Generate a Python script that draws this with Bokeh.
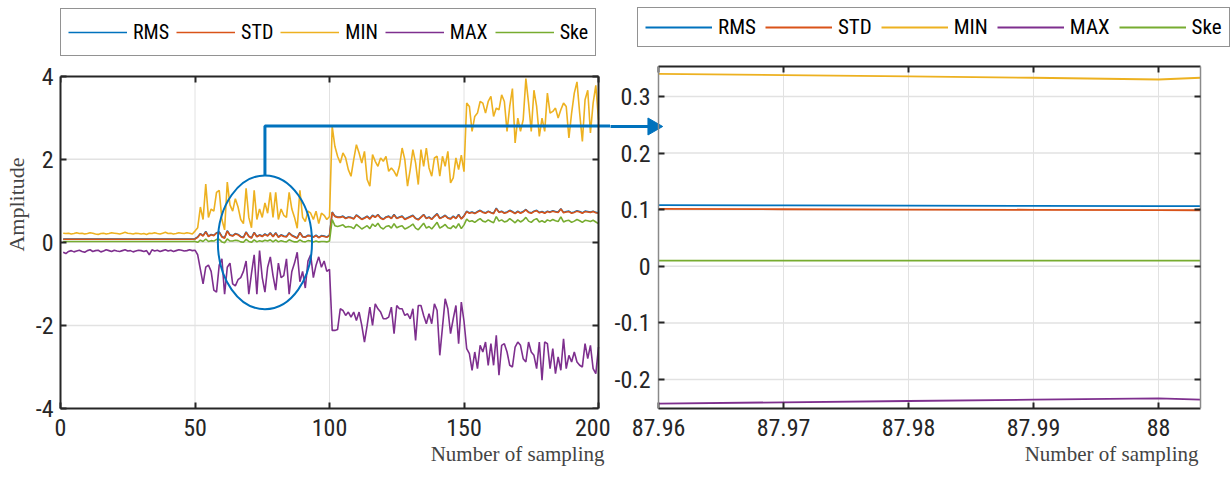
import math
from bokeh.plotting import figure
from bokeh.layouts import row
from bokeh.models import (Range1d, LinearAxis, FixedTicker, Legend, LegendItem, Title)
from bokeh.core.properties import value
from bokeh.embed import file_html
from bokeh.resources import INLINE

# ---------------- data: left panel (sample index 1..200) ----------------
x_left = list(range(1, 201))

rms = [0.080,0.081,0.080,0.079,0.080,0.081,0.080,0.080,0.079,0.080,
       0.081,0.080,0.080,0.079,0.080,0.081,0.080,0.079,0.080,0.080,
       0.081,0.080,0.080,0.081,0.080,0.079,0.080,0.080,0.081,0.080,
       0.080,0.079,0.081,0.080,0.080,0.081,0.080,0.079,0.080,0.081,
       0.080,0.080,0.079,0.080,0.081,0.080,0.080,0.081,0.080,0.085,
       0.13,0.21,0.16,0.26,0.15,0.19,0.17,0.23,0.25,0.14,
       0.11,0.28,0.18,0.16,0.21,0.19,0.14,0.12,0.25,0.15,
       0.11,0.24,0.14,0.18,0.15,0.20,0.16,0.23,0.14,0.23,
       0.13,0.18,0.15,0.14,0.23,0.17,0.14,0.107,0.24,0.14,
       0.13,0.17,0.16,0.13,0.17,0.12,0.16,0.15,0.13,0.17,
       0.73,0.63,0.61,0.61,0.63,0.58,0.61,0.60,0.57,0.66,
       0.61,0.56,0.59,0.63,0.57,0.65,0.61,0.67,0.59,0.56,
       0.61,0.63,0.58,0.67,0.58,0.61,0.63,0.56,0.59,0.62,
       0.65,0.58,0.55,0.61,0.67,0.58,0.61,0.56,0.63,0.69,
       0.58,0.61,0.65,0.59,0.57,0.63,0.58,0.67,0.57,0.64,
       0.75,0.71,0.73,0.70,0.74,0.77,0.73,0.71,0.75,0.72,
       0.70,0.82,0.73,0.75,0.71,0.73,0.77,0.74,0.70,0.75,
       0.71,0.74,0.79,0.73,0.71,0.75,0.77,0.72,0.74,0.71,
       0.75,0.73,0.76,0.74,0.73,0.81,0.72,0.74,0.75,0.71,
       0.73,0.76,0.74,0.71,0.75,0.74,0.73,0.75,0.72,0.71]

std = [0.074,0.075,0.074,0.073,0.074,0.075,0.074,0.074,0.073,0.074,
       0.075,0.074,0.074,0.073,0.074,0.075,0.074,0.073,0.074,0.074,
       0.075,0.074,0.074,0.075,0.074,0.073,0.074,0.074,0.075,0.074,
       0.074,0.073,0.075,0.074,0.074,0.075,0.074,0.073,0.074,0.075,
       0.074,0.074,0.073,0.074,0.075,0.074,0.074,0.075,0.074,0.080,
       0.12,0.20,0.15,0.25,0.14,0.18,0.16,0.22,0.24,0.13,
       0.10,0.27,0.17,0.15,0.20,0.18,0.13,0.11,0.24,0.14,
       0.10,0.23,0.13,0.17,0.14,0.19,0.15,0.22,0.13,0.22,
       0.12,0.17,0.14,0.13,0.22,0.16,0.13,0.100,0.23,0.13,
       0.12,0.16,0.15,0.12,0.16,0.11,0.15,0.14,0.12,0.16,
       0.72,0.62,0.60,0.60,0.62,0.57,0.60,0.59,0.56,0.65,
       0.60,0.55,0.58,0.62,0.56,0.64,0.60,0.66,0.58,0.55,
       0.60,0.62,0.57,0.66,0.57,0.60,0.62,0.55,0.58,0.61,
       0.64,0.57,0.54,0.60,0.66,0.57,0.60,0.55,0.62,0.68,
       0.57,0.60,0.64,0.58,0.56,0.62,0.57,0.66,0.56,0.63,
       0.74,0.70,0.72,0.69,0.73,0.76,0.72,0.70,0.74,0.71,
       0.69,0.81,0.72,0.74,0.70,0.72,0.76,0.73,0.69,0.74,
       0.70,0.73,0.78,0.72,0.70,0.74,0.76,0.71,0.73,0.70,
       0.74,0.72,0.75,0.73,0.72,0.80,0.71,0.73,0.74,0.70,
       0.72,0.75,0.73,0.70,0.74,0.73,0.72,0.74,0.71,0.70]

mn = [0.22,0.21,0.22,0.20,0.21,0.23,0.21,0.22,0.20,0.21,
      0.23,0.22,0.20,0.19,0.21,0.22,0.20,0.21,0.23,0.22,
      0.21,0.20,0.22,0.24,0.22,0.21,0.20,0.22,0.21,0.20,
      0.21,0.19,0.22,0.21,0.23,0.21,0.20,0.22,0.24,0.21,
      0.22,0.20,0.21,0.23,0.22,0.21,0.23,0.22,0.20,0.27,
      0.35,0.85,0.55,1.40,0.60,0.80,0.75,1.20,1.25,0.55,
      0.30,1.45,0.90,0.75,1.05,0.85,0.55,0.45,1.30,0.60,
      0.35,1.25,0.55,0.80,0.60,0.95,0.70,1.20,0.60,1.20,
      0.55,0.80,0.65,0.60,1.20,0.80,0.60,0.34,1.25,0.60,
      0.50,0.75,0.70,0.55,0.75,0.45,0.70,0.65,0.55,0.62,
      2.79,2.31,2.07,1.91,2.15,2.03,1.75,1.59,1.99,2.35,
      2.15,1.91,2.19,1.51,1.35,2.11,1.95,1.83,2.03,1.95,
      2.07,1.71,1.79,1.71,1.59,1.83,2.27,1.99,1.35,1.75,
      2.23,1.91,1.39,2.23,1.83,2.27,1.79,1.59,2.03,2.07,
      1.59,2.07,1.83,2.19,1.43,1.55,2.03,1.75,2.10,1.70,
      3.35,3.27,2.67,3.03,3.11,3.39,3.35,3.11,3.39,3.51,
      3.03,3.23,3.19,3.55,3.39,2.67,3.27,3.70,2.39,2.99,
      2.67,2.95,3.94,3.35,2.67,3.66,3.27,2.55,2.99,2.67,
      3.59,3.11,3.15,3.23,2.99,3.19,3.35,3.27,2.51,3.11,
      3.59,3.86,3.11,2.43,3.43,3.66,2.63,3.35,3.78,2.95]

mx = [-0.24,-0.27,-0.22,-0.20,-0.23,-0.21,-0.19,-0.22,-0.24,-0.20,
      -0.18,-0.22,-0.20,-0.19,-0.23,-0.21,-0.18,-0.20,-0.22,-0.19,
      -0.21,-0.22,-0.20,-0.18,-0.21,-0.20,-0.23,-0.21,-0.19,-0.20,
      -0.22,-0.20,-0.30,-0.18,-0.21,-0.19,-0.22,-0.20,-0.18,-0.21,
      -0.19,-0.22,-0.20,-0.18,-0.19,-0.21,-0.20,-0.18,-0.20,-0.19,
      -0.30,-0.65,-1.00,-0.60,-0.55,-0.70,-1.15,-1.20,-0.55,-0.40,
      -1.25,-0.60,-0.50,-1.00,-1.05,-0.90,-0.85,-0.70,-0.45,-1.25,
      -0.75,-0.30,-1.25,-0.20,-0.85,-1.20,-0.60,-0.35,-0.80,-1.15,
      -0.50,-0.85,-0.80,-0.40,-1.25,-0.70,-0.50,-0.24,-0.95,-0.70,
      -1.10,-0.45,-0.30,-0.85,-0.55,-0.35,-0.60,-0.45,-0.70,-0.65,
      -2.12,-2.12,-2.10,-1.60,-1.64,-1.76,-1.68,-1.80,-1.68,-1.88,
      -1.68,-2.00,-2.40,-2.00,-1.56,-2.00,-1.48,-1.60,-1.68,-1.84,
      -1.84,-1.80,-1.56,-2.20,-1.52,-1.60,-1.60,-1.76,-1.72,-1.84,
      -1.60,-2.36,-1.52,-1.52,-1.76,-1.96,-1.72,-1.96,-1.48,-1.64,
      -2.72,-2.04,-1.36,-1.60,-2.20,-1.84,-1.52,-2.44,-1.44,-1.90,
      -2.56,-2.68,-3.08,-2.64,-3.04,-2.48,-2.64,-2.40,-2.96,-2.44,
      -2.96,-2.24,-3.20,-2.48,-2.44,-2.64,-2.96,-3.00,-2.52,-2.40,
      -2.48,-2.80,-2.88,-2.40,-2.64,-2.72,-3.04,-2.40,-3.32,-2.40,
      -2.44,-3.04,-2.56,-3.16,-2.76,-3.08,-2.32,-3.04,-2.72,-2.88,
      -2.64,-2.88,-2.96,-3.00,-2.44,-2.80,-2.48,-3.04,-3.16,-2.52]

ske = [0.020,0.021,0.020,0.019,0.020,0.021,0.020,0.020,0.019,0.020,
       0.021,0.020,0.020,0.019,0.020,0.021,0.020,0.019,0.020,0.020,
       0.021,0.020,0.020,0.021,0.020,0.019,0.020,0.020,0.021,0.020,
       0.020,0.019,0.021,0.020,0.020,0.021,0.020,0.019,0.020,0.021,
       0.020,0.020,0.019,0.020,0.021,0.020,0.020,0.021,0.020,0.022,
       0.00,0.05,0.02,0.08,0.02,0.04,0.03,0.07,0.07,0.01,
       -0.01,0.08,0.03,0.03,0.05,0.04,0.01,0.00,0.07,0.02,
       0.00,0.06,0.01,0.04,0.02,0.05,0.03,0.06,0.01,0.06,
       0.01,0.04,0.02,0.01,0.06,0.03,0.01,0.01,0.06,0.02,
       0.01,0.04,0.03,0.01,0.03,0.01,0.02,0.02,0.01,0.03,
       0.55,0.40,0.38,0.40,0.42,0.36,0.38,0.37,0.33,0.43,
       0.38,0.32,0.36,0.40,0.33,0.44,0.38,0.46,0.36,0.32,
       0.38,0.40,0.34,0.45,0.35,0.38,0.40,0.32,0.35,0.39,
       0.44,0.34,0.30,0.38,0.46,0.34,0.38,0.32,0.40,0.48,
       0.34,0.38,0.43,0.35,0.33,0.40,0.34,0.45,0.33,0.42,
       0.56,0.50,0.52,0.48,0.53,0.57,0.51,0.49,0.54,0.50,
       0.47,0.62,0.51,0.54,0.49,0.51,0.57,0.52,0.47,0.54,
       0.49,0.53,0.60,0.51,0.48,0.54,0.57,0.49,0.52,0.48,
       0.54,0.51,0.55,0.52,0.50,0.61,0.49,0.52,0.53,0.48,
       0.51,0.55,0.52,0.48,0.53,0.52,0.50,0.53,0.49,0.45]

# ---------------- data: right (zoomed) panel ----------------
x_right = [87.96, 87.97, 87.98, 87.99, 88.00, 88.00336]
rms_r = [0.1080, 0.1076, 0.1072, 0.1068, 0.1064, 0.1062]
std_r = [0.1013, 0.1008, 0.1003, 0.0998, 0.0993, 0.0990]
min_r = [0.3400, 0.3378, 0.3354, 0.3331, 0.3300, 0.3331]
max_r = [-0.2427, -0.2403, -0.2380, -0.2357, -0.2334, -0.2357]
ske_r = [0.0102, 0.0102, 0.0102, 0.0102, 0.0102, 0.0102]

series_names = ["RMS", "STD", "MIN", "MAX", "Ske"]
colors = ["#0072BD", "#D95319", "#EDB120", "#7E2F8E", "#77AC30"]

left_xticks = [0, 50, 100, 150, 200]
left_xlabels = ["0", "50", "100", "150", "200"]
left_yticks = [-4, -2, 0, 2, 4]
left_ylabels = ["-4", "-2", "0", "2", "4"]
right_xticks = [87.96, 87.97, 87.98, 87.99, 88.0]
right_xlabels = ["87.96", "87.97", "87.98", "87.99", "88"]
right_yticks = [-0.2, -0.1, 0.0, 0.1, 0.2, 0.3]
right_ylabels = ["-0.2", "-0.1", "0", "0.1", "0.2", "0.3"]

# axes boxes (x0, x1, y0, y1) and view ranges (the extra view room holds legend/connector)
L_box = (0, 200, -4, 4)
L_view = (0, 204.46, -4, 5.820)
R_box = (87.96, 88.00336, -0.25124, 0.353)
R_view = (87.95616, 88.00592, -0.25124, 0.46961)

# zoom marker / connector
ell_x, ell_y, ell_w, ell_h = 76, 0.0, 35, 3.22
link_y_left = 2.80
link_y_right = 0.247
link_x_far_left = 210.0
link_x_far_right = 87.950
arrow_tip_x = 87.95955

TICK_FONT = "Liberation Sans Narrow, Roboto Condensed, Liberation Sans, sans-serif"
SERIF = "Liberation Serif, Times New Roman, serif"
DARK = "#262626"
GRAY_SPINE = "#8a8a8a"
GRID = "#e2e2e2"
BLUE = "#0072BD"
TICK_SIZE = "24px"


def style_axis(ax, ticks, labels, bounds, show_labels=True, color=DARK, width=2):
    ax.ticker = FixedTicker(ticks=ticks)
    ax.bounds = bounds
    if show_labels:
        ax.major_label_overrides = {t: l for t, l in zip(ticks, labels)}
        ax.major_label_text_font_size = TICK_SIZE
    else:
        ax.major_label_overrides = {t: "" for t in ticks}
        ax.major_label_standoff = 0
    ax.minor_tick_line_color = None
    ax.major_tick_in = 6
    ax.major_tick_out = 0
    ax.major_tick_line_color = DARK
    ax.major_tick_line_width = 2
    ax.axis_line_color = color
    ax.axis_line_width = width
    ax.major_label_text_font = TICK_FONT
    ax.major_label_text_color = "#262626"


def make_legend(renderers, font_size, glyph_w, glyph_h, spacing, loc):
    items = [LegendItem(label=n, renderers=[r]) for n, r in zip(series_names, renderers)]
    return Legend(items=items, orientation="horizontal", location=loc, margin=0,
                  label_text_font=TICK_FONT, label_text_font_size=font_size,
                  label_text_color="#000000",
                  glyph_width=glyph_w, glyph_height=glyph_h, label_standoff=6,
                  spacing=spacing, padding=7,
                  border_line_color=DARK, border_line_width=1.5,
                  background_fill_color="white", background_fill_alpha=1.0)


def grid_lines(p, xticks, yticks, box, color):
    x0, x1, y0, y1 = box
    gx = [t for t in xticks if x0 < t < x1]
    gy = [t for t in yticks if y0 < t < y1]
    p.segment(x0=gx, y0=[y0] * len(gx), x1=gx, y1=[y1] * len(gx), line_color=color, line_width=1)
    p.segment(x0=[x0] * len(gy), y0=gy, x1=[x1] * len(gy), y1=gy, line_color=color, line_width=1.5)


# ---------------- left figure ----------------
p1 = figure(width=610, height=484,
            x_range=Range1d(L_view[0], L_view[1]), y_range=Range1d(L_view[2], L_view[3]),
            output_backend="svg", toolbar_location=None,
            min_border_left=60, min_border_right=0, min_border_top=0, min_border_bottom=74)
p1.outline_line_color = None
p1.xgrid.visible = False
p1.ygrid.visible = False

grid_lines(p1, left_xticks, left_yticks, L_box, GRID)

rend1 = []
for vals, c in zip([rms, std, mn, mx, ske], colors):
    rend1.append(p1.line(x_left, vals, line_color=c, line_width=1.6))

style_axis(p1.xaxis[0], left_xticks, left_xlabels, (L_box[0], L_box[1]))
style_axis(p1.yaxis[0], left_yticks, left_ylabels, (L_box[2], L_box[3]))
p1.xaxis.major_label_standoff = 10
p1.yaxis.major_label_standoff = 7
p1.yaxis.axis_label = "Amplitude"
p1.yaxis.axis_label_text_font = SERIF
p1.yaxis.axis_label_text_font_style = "normal"
p1.yaxis.axis_label_text_font_size = "22px"
p1.yaxis.axis_label_standoff = 4

top1 = LinearAxis(fixed_location=L_box[3])
style_axis(top1, left_xticks, left_xlabels, (L_box[0], L_box[1]), show_labels=False)
p1.add_layout(top1, "above")
right1 = LinearAxis(fixed_location=L_box[1])
style_axis(right1, left_yticks, left_ylabels, (L_box[2], L_box[3]), show_labels=False)
p1.add_layout(right1, "right")

p1.add_layout(Title(text="Number of sampling", align="right", text_font=SERIF,
                    text_font_size="21px", text_font_style="normal", standoff=3,
                    offset=6), "below")

p1.ellipse(x=[ell_x], y=[ell_y], width=[ell_w], height=[ell_h],
           fill_color=None, line_color=BLUE, line_width=2)
p1.line(x=[ell_x, ell_x, link_x_far_left], y=[ell_y + ell_h / 2, link_y_left, link_y_left],
        line_color=BLUE, line_width=3)

p1.add_layout(make_legend(rend1, "20px", 59, 32, 7, (0, 352)))

# ---------------- right figure ----------------
p2 = figure(width=622, height=484,
            x_range=Range1d(R_view[0], R_view[1]), y_range=Range1d(R_view[2], R_view[3]),
            output_backend="svg", toolbar_location=None,
            min_border_left=0, min_border_right=0, min_border_top=0, min_border_bottom=76)
p2.outline_line_color = None
p2.xgrid.visible = False
p2.ygrid.visible = False

grid_lines(p2, right_xticks, right_yticks, R_box, GRID)

rend2 = []
for vals, c in zip([rms_r, std_r, min_r, max_r, ske_r], colors):
    rend2.append(p2.line(x_right, vals, line_color=c, line_width=1.8))

style_axis(p2.xaxis[0], right_xticks, right_xlabels, (R_box[0], R_box[1]))
p2.xaxis.major_label_standoff = 10
style_axis(p2.yaxis[0], right_yticks, right_ylabels, (R_box[2], R_box[3]),
           show_labels=False, color=GRAY_SPINE, width=1.5)
p2.yaxis.fixed_location = R_box[0]
p2.text(x=[R_box[0]] * len(right_yticks), y=right_yticks, text=right_ylabels,
        x_offset=-8, text_align="right", text_baseline="middle",
        text_font=value(TICK_FONT), text_font_size=TICK_SIZE, text_color="#262626")

top2 = LinearAxis(fixed_location=R_box[3])
style_axis(top2, right_xticks, right_xlabels, (R_box[0], R_box[1]), show_labels=False)
p2.add_layout(top2, "above")
right2 = LinearAxis(fixed_location=R_box[1])
style_axis(right2, right_yticks, right_ylabels, (R_box[2], R_box[3]), show_labels=False,
           color=GRAY_SPINE, width=1.5)
p2.add_layout(right2, "right")

p2.add_layout(Title(text="Number of sampling", align="right", text_font=SERIF,
                    text_font_size="21px", text_font_style="normal", standoff=3,
                    offset=34), "below")

p2.line(x=[link_x_far_right, arrow_tip_x], y=[link_y_right, link_y_right],
        line_color=BLUE, line_width=3)
p2.scatter(x=[arrow_tip_x], y=[link_y_right], marker="triangle", size=17,
           angle=-math.pi / 2, fill_color=BLUE, line_color=BLUE)

p2.add_layout(make_legend(rend2, "21px", 67, 24, 9, (27, 361)))

layout = row(p1, p2)
open("out.html", "w").write(file_html(layout, INLINE))
